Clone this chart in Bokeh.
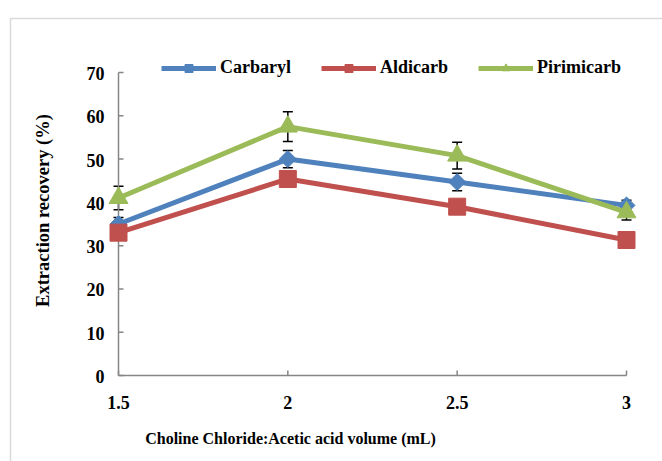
import math
from bokeh.plotting import figure
from bokeh.models import (Range1d, ColumnDataSource, Whisker, TeeHead,
                          Legend, LegendItem, Label, BoxAnnotation)
from bokeh.core.properties import value
from bokeh.embed import file_html
from bokeh.resources import INLINE

# ---- data ----
volumes = [1.5, 2.0, 2.5, 3.0]
carbaryl = [35.0, 50.0, 44.7, 39.3]
carbaryl_err = [1.5, 2.0, 2.0, 1.2]
aldicarb = [33.0, 45.4, 39.0, 31.3]
aldicarb_err = [1.0, 1.5, 1.0, 1.0]
pirimicarb = [41.0, 57.5, 50.8, 37.7]
pirimicarb_err = [2.7, 3.45, 3.1, 1.8]
y_ticks = [0, 10, 20, 30, 40, 50, 60, 70]
x_ticks = [1.5, 2.0, 2.5, 3.0]
x_tick_labels = ["1.5", "2", "2.5", "3"]
x_title = "Choline Chloride:Acetic acid volume (mL)"
y_title = "Extraction recovery (%)"

FONT = "'Liberation Serif', 'Times New Roman', serif"
AX_GRAY = "#868686"

# ---- layout (pixels); the frame covers the whole canvas ----
W, H = 662, 461
x_px0, x_px1 = 118, 626     # where the first / last x tick sit
y_px0, y_px1 = 375, 72      # where the first / last y tick sit

upx = (x_ticks[-1] - x_ticks[0]) / (x_px1 - x_px0)
upy = (y_ticks[-1] - y_ticks[0]) / (y_px0 - y_px1)
x_range = Range1d(x_ticks[0] - x_px0 * upx, x_ticks[-1] + (W - x_px1) * upx)
y_range = Range1d(y_ticks[0] - (H - y_px0) * upy, y_ticks[-1] + y_px1 * upy)

p = figure(width=W, height=H, output_backend="svg", toolbar_location=None,
           x_range=x_range, y_range=y_range,
           min_border=0, min_border_left=0, min_border_right=0,
           min_border_top=0, min_border_bottom=0)
p.title.visible = False
p.outline_line_color = None
p.xaxis.visible = False
p.yaxis.visible = False
p.xgrid.visible = False
p.ygrid.visible = False
p.background_fill_color = "white"
p.border_fill_color = "white"

# outer chart-area border
p.add_layout(BoxAnnotation(left=10, right=760, top=18, bottom=560,
                           left_units="canvas", right_units="canvas",
                           top_units="canvas", bottom_units="canvas",
                           fill_alpha=0, line_color=AX_GRAY, line_width=1.5))

# axis lines
p.segment(x0=[x_ticks[0], x_ticks[0]], y0=[y_ticks[0], y_ticks[0]],
          x1=[x_ticks[-1], x_ticks[0]], y1=[y_ticks[0], y_ticks[-1]],
          line_color=AX_GRAY, line_width=1.5)
# tick marks (inside)
p.ray(x=x_ticks, y=[y_ticks[0]] * len(x_ticks), length=5, length_units="screen",
      angle=math.pi / 2, line_color=AX_GRAY, line_width=1.5)
p.ray(x=[x_ticks[0]] * len(y_ticks), y=y_ticks, length=5, length_units="screen",
      angle=0, line_color=AX_GRAY, line_width=1.5)
# tick labels
p.text(x=x_ticks, y=[y_ticks[0]] * len(x_ticks), text=x_tick_labels, y_offset=27,
       text_align="center", text_baseline="middle", text_font=value(FONT),
       text_font_style="bold", text_font_size="18px", text_color="black")
p.text(x=[x_ticks[0]] * len(y_ticks), y=y_ticks, text=[str(v) for v in y_ticks], x_offset=-14,
       y_offset=1, text_align="right", text_baseline="middle", text_font=value(FONT),
       text_font_style="bold", text_font_size="18px", text_color="black")

series = [
    ("Carbaryl", carbaryl, carbaryl_err, "#4F81BD", "square", 12, math.pi / 4),
    ("Aldicarb", aldicarb, aldicarb_err, "#C0504D", "square", 17, 0.0),
    ("Pirimicarb", pirimicarb, pirimicarb_err, "#9BBB59", "triangle", 19, 0.0),
]

items = []
for name, vals, errs, color, marker, size, ang in series:
    src = ColumnDataSource(dict(x=volumes, y=vals,
                                lo=[v - e for v, e in zip(vals, errs)],
                                hi=[v + e for v, e in zip(vals, errs)]))
    w = Whisker(base="x", lower="lo", upper="hi", source=src, line_color="black",
                line_width=1.5, level="underlay",
                lower_head=TeeHead(size=10, line_color="black", line_width=1.5),
                upper_head=TeeHead(size=10, line_color="black", line_width=1.5))
    p.add_layout(w)
    lr = p.line("x", "y", source=src, line_color=color, line_width=5)
    sr = p.scatter("x", "y", source=src, marker=marker, size=size, angle=ang,
                   fill_color=color, line_color=color)
    items.append(LegendItem(label=name, renderers=[lr, sr]))

legend = Legend(items=items, orientation="horizontal", location=(161, H - 78),
                padding=0, margin=0, spacing=30, label_standoff=4,
                glyph_width=55, glyph_height=20,
                border_line_color=None, background_fill_alpha=0,
                label_text_font=FONT, label_text_font_style="bold",
                label_text_font_size="18px", label_text_color="black")
p.add_layout(legend, "center")

# axis titles
p.add_layout(Label(x=290, y=H - 438, x_units="screen", y_units="screen",
                   text=x_title, text_align="center", text_baseline="middle",
                   text_font=FONT, text_font_style="bold", text_font_size="16px",
                   text_color="black"))
p.add_layout(Label(x=42, y=H - 210, x_units="screen", y_units="screen",
                   text=y_title, angle=math.pi / 2, text_align="center", text_baseline="middle",
                   text_font=FONT, text_font_style="bold", text_font_size="18.5px",
                   text_color="black"))

open("out.html", "w").write(file_html(p, INLINE))
